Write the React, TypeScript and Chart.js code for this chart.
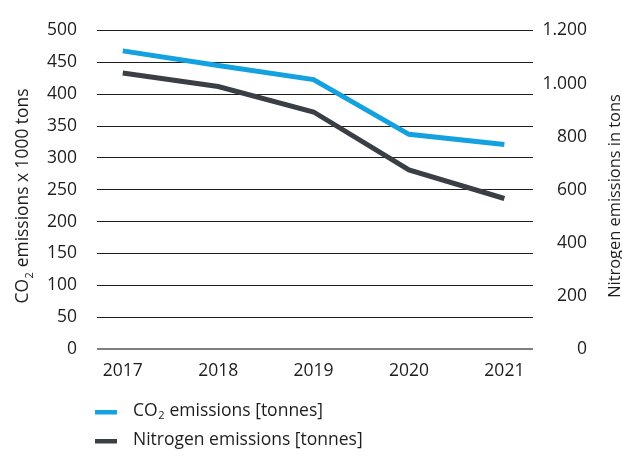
import { useEffect, useRef } from 'react';
import { Chart, registerables } from 'chart.js';

Chart.register(...registerables);

// Reporting years
const years = [2017, 2018, 2019, 2020, 2021];
// CO2 emissions, x 1000 tons (left axis)
const co2Values = [468, 445, 423, 337, 321];
// Nitrogen emissions, tons (right axis)
const nitrogenValues = [1040, 989, 893, 675, 567];

const co2Ticks = [0, 50, 100, 150, 200, 250, 300, 350, 400, 450, 500];
const nitrogenTicks = [0, 200, 400, 600, 800, 1000, 1200];

const seriesLabels = ['CO₂ emissions [tonnes]', 'Nitrogen emissions [tonnes]'];
const axisTitles = ['CO₂ emissions x 1000 tons', 'Nitrogen emissions in tons'];

const BLUE = '#14a1e0';
const DARK = '#3a3f45';
const TEXT = '#1d1d1d';
const FONT = '"Open Sans", "Noto Sans", sans-serif';

// Draws text where '₂' is set as a small lowered "2"; returns total width
function drawRich(
  ctx: CanvasRenderingContext2D,
  text: string,
  x: number,
  y: number,
  size: number,
  measureOnly = false
): number {
  const parts = text.split('₂');
  let cx = x;
  parts.forEach((part, i) => {
    ctx.font = `${size}px ${FONT}`;
    if (!measureOnly) ctx.fillText(part, cx, y);
    cx += ctx.measureText(part).width;
    if (i < parts.length - 1) {
      const sub = Math.round(size * 0.62);
      ctx.font = `${sub}px ${FONT}`;
      if (!measureOnly) ctx.fillText('2', cx + 0.5, y + size * 0.28);
      cx += ctx.measureText('2').width + 1;
    }
  });
  return cx - x;
}

const decorPlugin = {
  id: 'decor',
  afterDraw(chart: any) {
    const ctx: CanvasRenderingContext2D = chart.ctx;
    ctx.save();
    ctx.fillStyle = TEXT;
    ctx.textAlign = 'left';
    ctx.textBaseline = 'alphabetic';

    // Axis titles, both reading bottom-to-top
    const titleSize = [17.4, 16.4];
    const titleX = [28, 620];
    const titleMid = [196, 196];
    axisTitles.forEach((title, i) => {
      const w = drawRich(ctx, title, 0, 0, titleSize[i], true);
      ctx.save();
      ctx.translate(titleX[i], titleMid[i]);
      ctx.rotate(-Math.PI / 2);
      drawRich(ctx, title, -w / 2, 0, titleSize[i]);
      ctx.restore();
    });

    // Legend, stacked below the x axis
    const rowY = [412, 441];
    chart.data.datasets.forEach((ds: any, i: number) => {
      ctx.fillStyle = ds.borderColor;
      ctx.fillRect(95, rowY[i] - 2, 22, 4.5);
      ctx.fillStyle = TEXT;
      ctx.textBaseline = 'middle';
      drawRich(ctx, ds.label, 133, rowY[i] - 1, 17.5);
    });
    ctx.restore();
  },
};

export default function App() {
  const canvasRef = useRef<HTMLCanvasElement | null>(null);

  useEffect(() => {
    if (!canvasRef.current) return;
    const tickFont = { family: FONT, size: 17.5 };
    const chart = new Chart(canvasRef.current, {
      type: 'line',
      data: {
        datasets: [
          {
            label: seriesLabels[0],
            data: years.map((y, i) => ({ x: y, y: co2Values[i] })),
            borderColor: BLUE,
            backgroundColor: BLUE,
            borderWidth: 5,
            pointRadius: 0,
            tension: 0,
            yAxisID: 'y',
          },
          {
            label: seriesLabels[1],
            data: years.map((y, i) => ({ x: y, y: nitrogenValues[i] })),
            borderColor: DARK,
            backgroundColor: DARK,
            borderWidth: 5,
            pointRadius: 0,
            tension: 0,
            yAxisID: 'y1',
          },
        ],
      },
      options: {
        responsive: false,
        animation: false,
        layout: { padding: { top: 28, left: 0, right: 35, bottom: 0 } },
        plugins: {
          legend: { display: false },
          tooltip: { enabled: false },
        },
        scales: {
          x: {
            type: 'linear',
            min: 2016.73,
            max: 2021.3,
            afterBuildTicks: (s: any) => {
              s.ticks = years.map((v) => ({ value: v }));
            },
            afterFit: (s: any) => {
              s.height = 107;
            },
            grid: { display: false },
            border: { display: false },
            ticks: {
              autoSkip: false,
              maxRotation: 0,
              padding: 4,
              color: TEXT,
              font: tickFont,
              callback: (v: any) => String(v),
            },
          },
          y: {
            position: 'left',
            min: 0,
            max: 500,
            afterBuildTicks: (s: any) => {
              s.ticks = co2Ticks.map((v) => ({ value: v }));
            },
            afterFit: (s: any) => {
              s.width = 97;
            },
            grid: {
              color: (c: any) => (c.tick && c.tick.value === 0 ? '#808080' : '#1e1e1e'),
              lineWidth: (c: any) => (c.tick && c.tick.value === 0 ? 2 : 1),
              drawTicks: false,
            },
            border: { display: false },
            ticks: { padding: 20, color: TEXT, font: tickFont },
          },
          y1: {
            position: 'right',
            min: 0,
            max: 1200,
            afterBuildTicks: (s: any) => {
              s.ticks = nitrogenTicks.map((v) => ({ value: v }));
            },
            afterFit: (s: any) => {
              s.width = 54;
            },
            grid: { display: false, drawTicks: false },
            border: { display: false },
            ticks: {
              padding: 8,
              crossAlign: 'far',
              color: TEXT,
              font: tickFont,
              callback: (v: any) => String(v).replace(/\B(?=(\d{3})+(?!\d))/g, '.'),
            },
          },
        },
      },
      plugins: [decorPlugin],
    });
    return () => chart.destroy();
  }, []);

  return (
    <div style={{ position: 'fixed', left: 0, top: 0, width: 622, height: 456, background: '#fff' }}>
      <canvas ref={canvasRef} width={622} height={456} style={{ display: 'block' }} />
    </div>
  );
}
